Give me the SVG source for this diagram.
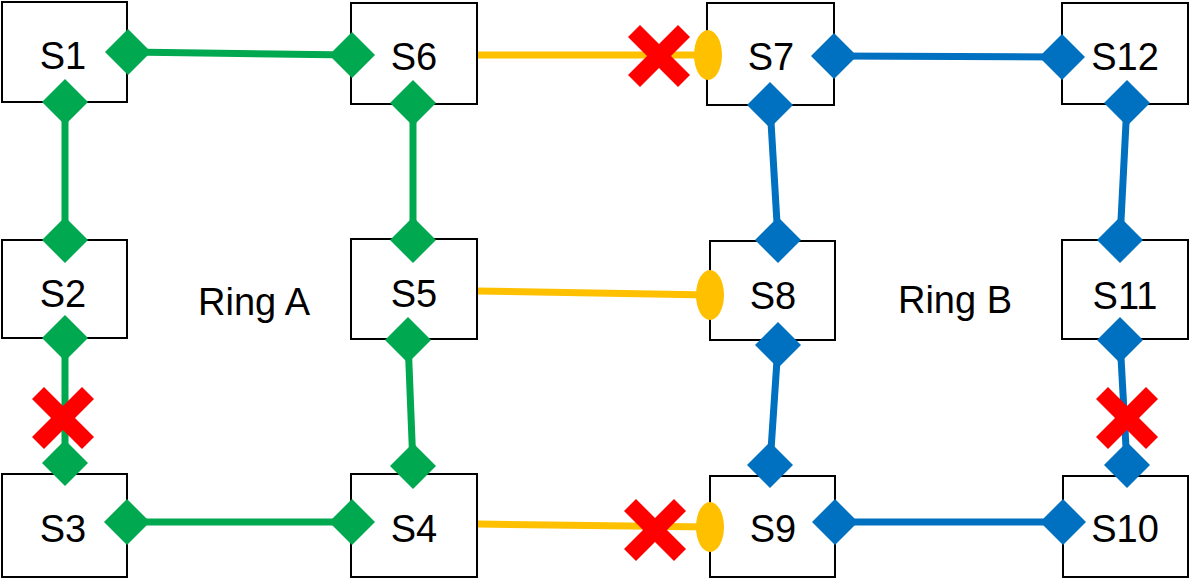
<svg xmlns="http://www.w3.org/2000/svg" width="1190" height="580" viewBox="0 0 1190 580">
<defs>
<style>
.box{fill:#fff;stroke:#000;stroke-width:2}
.t{font-family:"Liberation Sans",Arial,sans-serif;font-size:38px;text-anchor:middle;fill:#000}
.g{stroke:#00A94F;stroke-width:7;fill:none}
.b{stroke:#0070C0;stroke-width:7;fill:none}
.o{stroke:#FFC000;stroke-width:7;fill:none}
.gd{fill:#00A94F}
.bd{fill:#0070C0}
.ov{fill:#FFC000}
.x{stroke:#FF0000;stroke-width:17}
</style>
<path id="d" d="M0,-23 L23,0 L0,23 L-23,0Z"/>
<g id="xm"><line class="x" x1="-25" y1="-25" x2="25" y2="25"/><line class="x" x1="-25" y1="25" x2="25" y2="-25"/></g>
</defs>
<g id="connectors">
<path class="g" d="M128,52 L352,55 M65,102 L65,240 M65,338 L65,463 M127,522 L352,522 M413,466 L408,340 M413,240 L413,103"/>
<path class="b" d="M834,56 L1062,57 M770,105 L778,240 M778,345 L770,465 M835,522 L1063,522 M1127,465 L1120,340 M1120,240 L1127,103"/>
<path class="o" d="M478,55 L708,55 M478,291 L710,295 M478,524 L710,527"/>
</g>
<g id="S1"><rect class="box" x="2" y="2" width="125" height="100"/><text class="t" x="63" y="69">S1</text></g>
<g id="S6"><rect class="box" x="351" y="3" width="126" height="101"/><text class="t" x="414" y="70">S6</text></g>
<g id="S7"><rect class="box" x="707" y="3" width="127" height="102"/><text class="t" x="771" y="70">S7</text></g>
<g id="S12"><rect class="box" x="1062" y="3" width="126" height="101"/><text class="t" x="1125" y="70">S12</text></g>
<g id="S2"><rect class="box" x="2" y="240" width="125" height="98"/><text class="t" x="63" y="307">S2</text></g>
<g id="S5"><rect class="box" x="351" y="239" width="126" height="100"/><text class="t" x="414" y="307">S5</text></g>
<g id="S8"><rect class="box" x="710" y="241" width="125" height="99"/><text class="t" x="773" y="309">S8</text></g>
<g id="S11"><rect class="box" x="1062" y="240" width="126" height="99"/><text class="t" x="1125" y="309">S11</text></g>
<g id="S3"><rect class="box" x="2" y="474" width="125" height="103"/><text class="t" x="63" y="542">S3</text></g>
<g id="S4"><rect class="box" x="351" y="474" width="126" height="103"/><text class="t" x="414" y="542">S4</text></g>
<g id="S9"><rect class="box" x="710" y="476" width="125" height="101"/><text class="t" x="773" y="542">S9</text></g>
<g id="S10"><rect class="box" x="1063" y="476" width="125" height="101"/><text class="t" x="1125" y="542">S10</text></g>
<text class="t" x="254" y="315">Ring A</text>
<text class="t" x="955" y="313">Ring B</text>
<g id="ports">
<use href="#d" class="gd" x="128" y="52"/><use href="#d" class="gd" x="352" y="55"/>
<use href="#d" class="gd" x="65" y="102"/><use href="#d" class="gd" x="65" y="240"/>
<use href="#d" class="gd" x="65" y="338"/><use href="#d" class="gd" x="65" y="463"/>
<use href="#d" class="gd" x="127" y="522"/><use href="#d" class="gd" x="352" y="522"/>
<use href="#d" class="gd" x="413" y="466"/><use href="#d" class="gd" x="408" y="340"/>
<use href="#d" class="gd" x="413" y="240"/><use href="#d" class="gd" x="413" y="103"/>
<use href="#d" class="bd" x="834" y="56"/><use href="#d" class="bd" x="1062" y="57"/>
<use href="#d" class="bd" x="770" y="105"/><use href="#d" class="bd" x="778" y="240"/>
<use href="#d" class="bd" x="778" y="345"/><use href="#d" class="bd" x="770" y="465"/>
<use href="#d" class="bd" x="835" y="522"/><use href="#d" class="bd" x="1063" y="522"/>
<use href="#d" class="bd" x="1127" y="465"/><use href="#d" class="bd" x="1120" y="340"/>
<use href="#d" class="bd" x="1120" y="240"/><use href="#d" class="bd" x="1127" y="103"/>
<ellipse class="ov" cx="708" cy="55" rx="14" ry="25"/>
<ellipse class="ov" cx="710" cy="295" rx="14" ry="25"/>
<ellipse class="ov" cx="710" cy="527" rx="14" ry="25"/>
</g>
<g id="faults">
<use href="#xm" x="659" y="56"/><use href="#xm" x="63" y="418"/>
<use href="#xm" x="655" y="530"/><use href="#xm" x="1127" y="418"/>
</g>
</svg>
